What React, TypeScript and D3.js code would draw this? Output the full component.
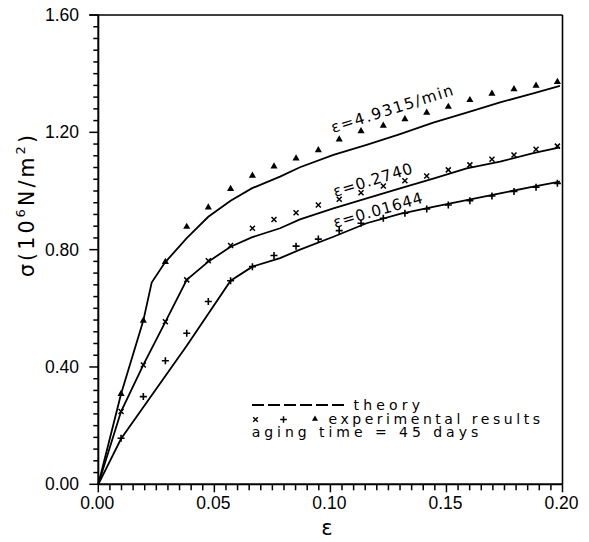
import React from "react";
import * as d3 from "d3";

// ---- data ----
const strain = [0.0098, 0.0194, 0.0289, 0.0381, 0.0474, 0.057, 0.0664, 0.0757, 0.0852, 0.0948, 0.1038, 0.1132, 0.1228, 0.1321, 0.1415, 0.1508, 0.1601, 0.1696, 0.1791, 0.1886, 0.1978];
const expTriangle = [0.308, 0.558, 0.758, 0.878, 0.944, 1.007, 1.052, 1.084, 1.111, 1.139, 1.176, 1.204, 1.223, 1.245, 1.267, 1.287, 1.31, 1.332, 1.347, 1.359, 1.372];
const expCross = [0.248, 0.407, 0.554, 0.697, 0.762, 0.814, 0.873, 0.903, 0.926, 0.952, 0.972, 0.994, 1.017, 1.035, 1.051, 1.072, 1.089, 1.108, 1.123, 1.142, 1.153];
const expPlus = [0.157, 0.299, 0.421, 0.515, 0.623, 0.694, 0.742, 0.78, 0.812, 0.836, 0.865, 0.89, 0.907, 0.924, 0.939, 0.952, 0.967, 0.983, 0.998, 1.013, 1.026];

const theoryHighX = [0, 0.0098, 0.0194, 0.023, 0.0287, 0.0381, 0.0474, 0.057, 0.0661, 0.0783, 0.0869, 0.1013, 0.1156, 0.13, 0.1443, 0.1587, 0.1731, 0.1874, 0.1989];
const theoryHighY = [0, 0.308, 0.558, 0.688, 0.756, 0.839, 0.912, 0.967, 1.009, 1.049, 1.081, 1.123, 1.157, 1.194, 1.233, 1.267, 1.302, 1.333, 1.358];
const theoryMidX = [0, 0.0098, 0.0194, 0.0289, 0.0381, 0.0474, 0.057, 0.0661, 0.0783, 0.0869, 0.1013, 0.1156, 0.13, 0.1443, 0.1587, 0.1731, 0.1874, 0.1989];
const theoryMidY = [0, 0.248, 0.407, 0.554, 0.697, 0.759, 0.81, 0.842, 0.873, 0.903, 0.941, 0.975, 1.009, 1.042, 1.077, 1.1, 1.129, 1.149];
const theoryLowX = [0, 0.0098, 0.0381, 0.057, 0.0664, 0.0783, 0.0869, 0.1013, 0.1156, 0.13, 0.1443, 0.1587, 0.1731, 0.1874, 0.1989];
const theoryLowY = [0, 0.155, 0.472, 0.694, 0.742, 0.771, 0.8, 0.844, 0.89, 0.922, 0.946, 0.969, 0.992, 1.015, 1.032];

const xTickValues = [0, 0.05, 0.1, 0.15, 0.2];
const xTickLabels = ["0.00", "0.05", "0.10", "0.15", "0.20"];
const yTickValues = [0, 0.4, 0.8, 1.2, 1.6];
const yTickLabels = ["0.00", "0.40", "0.80", "1.20", "1.60"];

const FONT = "'Liberation Sans', Arial, Helvetica, sans-serif";
const WIDE = "'DejaVu Sans', Verdana, sans-serif";

export default function App() {
  const x = d3.scaleLinear().domain([0, 0.2]).range([98.3, 562.5]);
  const y = d3.scaleLinear().domain([0, 1.6]).range([484.3, 15]);
  const line = d3
    .line<[number, number]>()
    .x((d) => x(d[0]))
    .y((d) => y(d[1]));
  const zip = (a: number[], b: number[]) => a.map((v, i) => [v, b[i]] as [number, number]);

  const xMinor = d3.range(0, 0.2001, 0.005);
  const yMinor = d3.range(0, 1.6001, 0.04);
  const tri = d3.symbol().type(d3.symbolTriangle).size(22)();
  const triSmall = d3.symbol().type(d3.symbolTriangle).size(16)();

  const crossPath = (cx: number, cy: number, r: number) =>
    `M${cx - r},${cy - r}L${cx + r},${cy + r}M${cx - r},${cy + r}L${cx + r},${cy - r}`;
  const plusPath = (cx: number, cy: number, r: number) =>
    `M${cx - r},${cy}L${cx + r},${cy}M${cx},${cy - r}L${cx},${cy + r}`;

  const x0 = x(0), x1 = x(0.2), y0 = y(0), y1 = y(1.6);

  return (
    <svg width={589} height={542} style={{ position: "absolute", left: 0, top: 0, background: "#fff" }} fontFamily={FONT}>
      <rect x={0} y={0} width={589} height={542} fill="#fff" />
      {/* frame */}
      <line x1={x0} y1={y0} x2={x1} y2={y0} stroke="#000" strokeWidth={2} />
      <line x1={x0} y1={y0} x2={x0} y2={y1} stroke="#000" strokeWidth={2} />
      <line x1={x0 - 9} y1={y1} x2={x1} y2={y1} stroke="#000" strokeWidth={1.6} />
      <line x1={x1} y1={y1} x2={x1} y2={y0} stroke="#000" strokeWidth={1.6} />
      {/* x ticks */}
      {xMinor.map((v, i) => {
        const major = i % 10 === 0;
        return <line key={"xt" + i} x1={x(v)} x2={x(v)} y1={y0} y2={y0 + (major ? 8 : 6)} stroke="#000" strokeWidth={1.5} />;
      })}
      {/* y ticks */}
      {yMinor.map((v, i) => {
        const major = i % 10 === 0;
        return <line key={"yt" + i} x1={x0} x2={x0 - (major ? 9 : 5)} y1={y(v)} y2={y(v)} stroke="#000" strokeWidth={1.5} />;
      })}
      {xTickValues.map((v, i) => (
        <text key={"xl" + i} x={x(v) - 1} y={509} textAnchor="middle" fontSize={17.5}>{xTickLabels[i]}</text>
      ))}
      {yTickValues.map((v, i) => (
        <text key={"yl" + i} x={79} y={y(v) + 6} textAnchor="end" fontSize={17.5}>{yTickLabels[i]}</text>
      ))}
      {/* axis titles */}
      <text x={327} y={535} textAnchor="middle" fontSize={21} fontFamily={WIDE}>ε</text>
      <text transform="translate(33.5,206) rotate(-90)" textAnchor="middle" fontSize={20.5} fontFamily={WIDE} textLength={142} lengthAdjust="spacing">
        σ(10<tspan dy={-9} fontSize={13}>6</tspan><tspan dy={9}>N/m</tspan><tspan dy={-9} fontSize={13}>2</tspan><tspan dy={9}>)</tspan>
      </text>
      {/* theory curves */}
      <path d={line(zip(theoryHighX, theoryHighY)) || ""} fill="none" stroke="#000" strokeWidth={1.8} />
      <path d={line(zip(theoryMidX, theoryMidY)) || ""} fill="none" stroke="#000" strokeWidth={1.8} />
      <path d={line(zip(theoryLowX, theoryLowY)) || ""} fill="none" stroke="#000" strokeWidth={1.8} />
      {/* experimental markers */}
      {strain.map((e, i) => (
        <path key={"t" + i} d={tri || ""} transform={`translate(${x(e)},${y(expTriangle[i])})`} fill="#000" />
      ))}
      {strain.map((e, i) => (
        <path key={"c" + i} d={crossPath(x(e), y(expCross[i]), 2.5)} stroke="#000" strokeWidth={1.5} fill="none" />
      ))}
      {strain.map((e, i) => (
        <path key={"p" + i} d={plusPath(x(e), y(expPlus[i]), 3.5)} stroke="#000" strokeWidth={1.6} fill="none" />
      ))}
      {/* curve labels */}
      <text transform="translate(333,133) rotate(-17.5)" fontSize={15.5} fontFamily={WIDE} textLength={127} lengthAdjust="spacing">ε=4.9315/min</text>
      <text transform="translate(335,197) rotate(-17)" fontSize={15.5} fontFamily={WIDE} textLength={82} lengthAdjust="spacing">ε=0.2740</text>
      <text transform="translate(335,228) rotate(-16)" fontSize={15.5} fontFamily={WIDE} textLength={92} lengthAdjust="spacing">ε=0.01644</text>
      {/* legend */}
      <line x1={252} x2={344} y1={405} y2={405} stroke="#000" strokeWidth={2} strokeDasharray="12,4" />
      <text x={353.5} y={410} fontSize={14} fontFamily={WIDE} textLength={66.5} lengthAdjust="spacing">theory</text>
      <path d={crossPath(255.5, 419.5, 2.3)} stroke="#000" strokeWidth={1.4} fill="none" />
      <path d={plusPath(283.5, 419.5, 3.3)} stroke="#000" strokeWidth={1.5} fill="none" />
      <path d={triSmall || ""} transform="translate(315,419)" fill="#000" />
      <text x={328.5} y={423.5} fontSize={14} fontFamily={WIDE} textLength={211.5} lengthAdjust="spacing">experimental results</text>
      <text x={251.7} y={437} fontSize={14} fontFamily={WIDE} textLength={226.5} lengthAdjust="spacing">aging time = 45 days</text>
    </svg>
  );
}
